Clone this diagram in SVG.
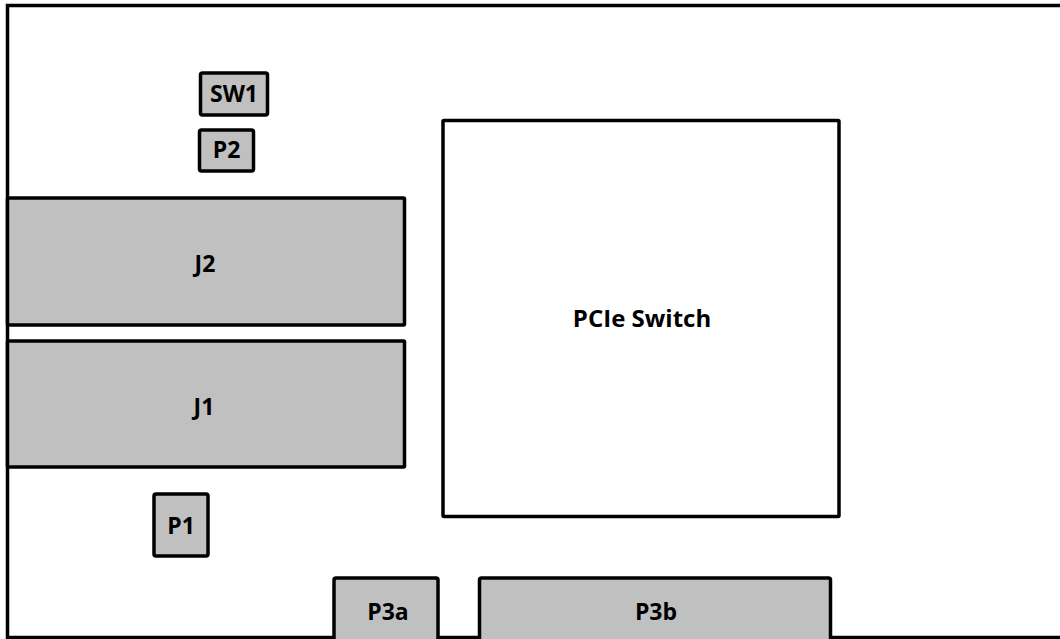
<svg xmlns="http://www.w3.org/2000/svg" width="1060" height="639" viewBox="0 0 1060 639">
<style>
.box{fill:#c0c0c0;stroke:#000;stroke-width:3.5}
.wbox{fill:#fff;stroke:#000;stroke-width:3.5}
.lbl{font-family:"Open Sans","Noto Sans","Liberation Sans",sans-serif;font-weight:bold;font-size:23px;fill:#000;text-anchor:middle}
</style>
<rect width="1060" height="639" fill="#fff"/>
<g id="board"><rect x="7.5" y="5.5" width="1100" height="632" fill="#fff" stroke="#000" stroke-width="3.5"/></g>
<g id="connectors"></g>
<g id="SW1"><rect class="box" x="200.5" y="73" width="67" height="42" rx="2"/><text class="lbl" x="234" y="101.5">SW1</text></g>
<g id="P2"><rect class="box" x="199.5" y="130" width="54" height="41" rx="2"/><text class="lbl" x="226.5" y="158">P2</text></g>
<g id="J2"><rect class="box" x="7.5" y="198" width="397" height="127" rx="1"/><text class="lbl" x="205" y="272">J2</text></g>
<g id="J1"><rect class="box" x="7.5" y="341" width="397" height="126" rx="1"/><text class="lbl" x="204" y="415">J1</text></g>
<g id="PCIe"><rect class="wbox" x="443" y="120.5" width="396" height="396" rx="1"/><text class="lbl" x="642" y="326.5" style="font-size:24px">PCIe Switch</text></g>
<g id="P1"><rect class="box" x="154" y="494" width="54" height="62" rx="2"/><text class="lbl" x="181" y="534">P1</text></g>
<g id="P3a"><rect class="box" x="334" y="578" width="104" height="80" rx="2"/><text class="lbl" x="388" y="620">P3a</text></g>
<g id="P3b"><rect class="box" x="479.5" y="578" width="351" height="80" rx="2"/><text class="lbl" x="656" y="620">P3b</text></g>
</svg>
